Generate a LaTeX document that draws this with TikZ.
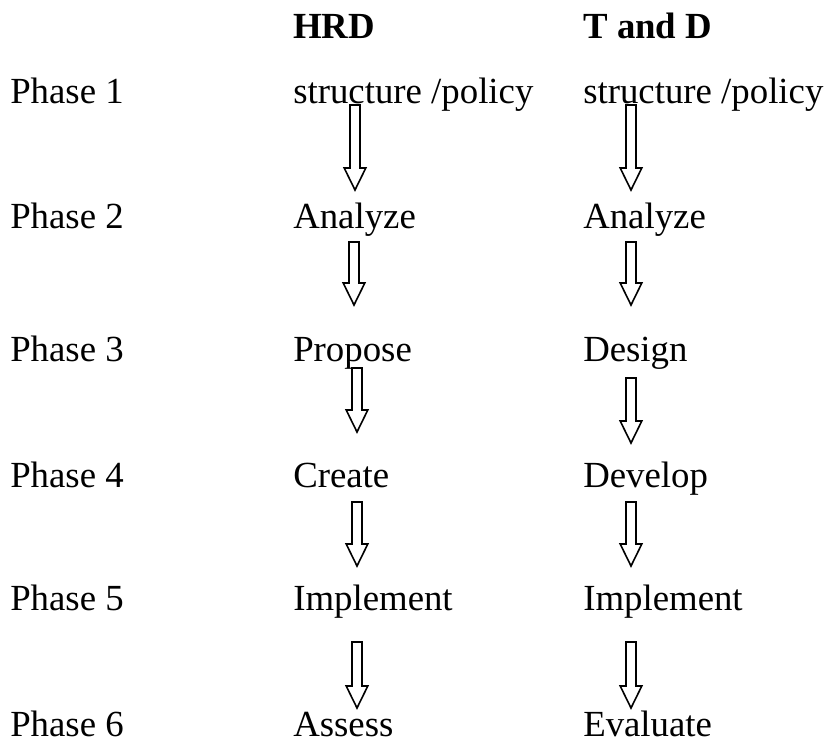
\documentclass[tikz,border=0pt]{standalone}
\usepackage{fontspec}
\setmainfont{Liberation Serif}
\usetikzlibrary{calc}

\begin{document}
\begin{tikzpicture}[
        x=0.75pt, y=-0.75pt,
        txt/.style={anchor=base west, inner sep=0pt, font=\fontsize{27.6}{32}\selectfont},
        colhead/.style={txt, font=\fontsize{27.6}{32}\selectfont\bfseries},
        hollow/.style={draw=black, line width=1.2pt, line join=miter,
            to path={let \p1=(\tikztostart), \p2=(\tikztotarget) in
                (\x1-3.75pt,\y1) -- (\x1-3.75pt,\y2+16.5pt) -- (\x1-8.1pt,\y2+16.5pt) -- (\x1,\y2)
                -- (\x1+8.1pt,\y2+16.5pt) -- (\x1+3.75pt,\y2+16.5pt) -- (\x1+3.75pt,\y1) -- cycle}}
    ]
    \useasboundingbox (0,0) rectangle (828,751);

    \node[colhead] (hrd) at (293,38) {HRD};
    \node[colhead] (td) at (583,38) {T and D};

    \node[txt] (p1) at (10,103) {Phase 1};
    \node[txt] (p2) at (10,228) {Phase 2};
    \node[txt] (p3) at (10,361) {Phase 3};
    \node[txt] (p4) at (10,487) {Phase 4};
    \node[txt] (p5) at (10,610) {Phase 5};
    \node[txt] (p6) at (10,736) {Phase 6};

    \node[txt] (h1) at (293,103) {structure /policy};
    \node[txt] (h2) at (293,228) {Analyze};
    \node[txt] (h3) at (293,361) {Propose};
    \node[txt] (h4) at (293,487) {Create};
    \node[txt] (h5) at (293,610) {Implement};
    \node[txt] (h6) at (293,736) {Assess};

    \node[txt] (t1) at (583,103) {structure /policy};
    \node[txt] (t2) at (583,228) {Analyze};
    \node[txt] (t3) at (583,361) {Design};
    \node[txt] (t4) at (583,487) {Develop};
    \node[txt] (t5) at (583,610) {Implement};
    \node[txt] (t6) at (583,736) {Evaluate};

    % HRD steps
    \draw[hollow] ([shift={(62,2)}]h1.base west) to ([shift={(62,-38)}]h2.base west);
    \draw[hollow] ([shift={(61,14)}]h2.base west) to ([shift={(61,-56)}]h3.base west);
    \draw[hollow] ([shift={(64,7)}]h3.base west) to ([shift={(64,-55)}]h4.base west);
    \draw[hollow] ([shift={(64,15)}]h4.base west) to ([shift={(64,-44)}]h5.base west);
    \draw[hollow] ([shift={(64,32)}]h5.base west) to ([shift={(64,-28)}]h6.base west);

    % T and D steps
    \draw[hollow] ([shift={(48,2)}]t1.base west) to ([shift={(48,-38)}]t2.base west);
    \draw[hollow] ([shift={(48,14)}]t2.base west) to ([shift={(48,-56)}]t3.base west);
    \draw[hollow] ([shift={(48,17)}]t3.base west) to ([shift={(48,-44)}]t4.base west);
    \draw[hollow] ([shift={(48,15)}]t4.base west) to ([shift={(48,-44)}]t5.base west);
    \draw[hollow] ([shift={(48,32)}]t5.base west) to ([shift={(48,-28)}]t6.base west);
\end{tikzpicture}
\end{document}
